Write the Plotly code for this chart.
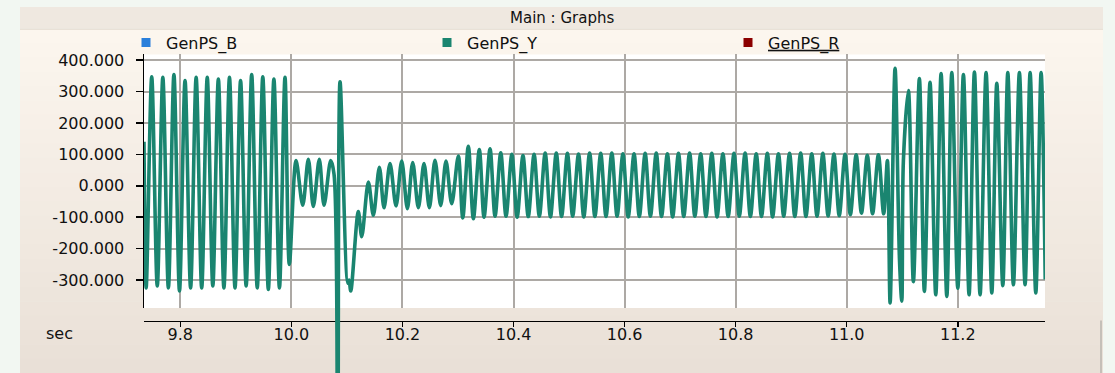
import plotly.graph_objects as go

# ---------------- data (time in s, GenPS_Y value) ----------------
# steady pre-disturbance oscillation (start point, then trough/peak alternation)
pre_times = [9.7346, 9.7385, 9.7485, 9.7585, 9.7685, 9.7785, 9.7885, 9.7985, 9.8085, 9.8185,
             9.8285, 9.8385, 9.8485, 9.8585, 9.8685, 9.8785, 9.8885, 9.8985, 9.9085, 9.9185,
             9.9285, 9.9385, 9.9485, 9.9585, 9.9685, 9.9785, 9.9885]
pre_values = [140, -325, 347, -319, 345, -325, 354, -335, 335, -325, 345, -325, 345, -319,
              340, -325, 345, -325, 335, -319, 354, -325, 347, -330, 340, -325, 345]

# first disturbance at 10.0 s and the spike near 10.08 s
dist1_times = [9.9963, 10.0084, 10.0204, 10.0305, 10.0395, 10.0503, 10.0588, 10.0708,
               10.0768, 10.0833, 10.0876, 10.1015, 10.1038, 10.1069, 10.1205, 10.1267,
               10.1386, 10.1476, 10.1584, 10.1668]
dist1_values = [-250, 80, -62, 84, -66, 84, -62, 80,
                37, -1000, 331, -310, -300, -335, -82, -162,
                12, -94, 59, -70]

# reduced oscillation, step up around 10.3 s
mid_times = [10.1776, 10.1884, 10.1987, 10.2088, 10.2185, 10.2286, 10.2388, 10.2484,
             10.2586, 10.2689, 10.2784, 10.2887, 10.3006, 10.3086, 10.3186, 10.3277,
             10.3384, 10.3469, 10.3577, 10.3667, 10.3770, 10.3865]
mid_values = [71, -64, 79, -73, 74, -70, 71, -70,
              81, -63, 79, -57, 95, -102, 126, -105,
              115, -100, 118, -97, 105, -97]

# steady reduced oscillation until ~11.07 s (peak/trough alternation)
steady_times = [10.3970, 10.4065, 10.4170, 10.4265, 10.4370, 10.4465, 10.4570, 10.4665,
                10.4770, 10.4865, 10.4970, 10.5065, 10.5170, 10.5265, 10.5370, 10.5465,
                10.5570, 10.5665, 10.5770, 10.5865, 10.5970, 10.6065, 10.6170, 10.6265,
                10.6370, 10.6465, 10.6570, 10.6665, 10.6770, 10.6865, 10.6970, 10.7065,
                10.7170, 10.7265, 10.7370, 10.7465, 10.7570, 10.7665, 10.7770, 10.7865,
                10.7970, 10.8065, 10.8170, 10.8265, 10.8370, 10.8465, 10.8570, 10.8665,
                10.8770, 10.8865, 10.8970, 10.9065, 10.9170, 10.9265, 10.9370, 10.9465,
                10.9570, 10.9665, 10.9770, 10.9865, 10.9970, 11.0065, 11.0170, 11.0265,
                11.0370, 11.0465, 11.0570, 11.0665]
steady_values = [100, -100, 96, -98, 100, -97, 104, -99, 104, -98, 103, -97, 101, -99,
                 104, -98, 103, -98, 104, -97, 102, -99, 102, -98, 103, -97, 104, -98,
                 102, -99, 103, -98, 104, -97, 102, -98, 103, -99, 102, -98, 103, -97,
                 104, -98, 102, -98, 103, -99, 102, -97, 103, -98, 104, -98, 102, -97,
                 103, -96, 101, -95, 100, -92, 99, -87, 97, -89, 99, -89]

# second disturbance near 11.08 s and full-amplitude oscillation to the end
post_times = [11.0732, 11.0781, 11.0870, 11.0950, 11.0991, 11.1020, 11.1110, 11.1200,
              11.1308, 11.1398, 11.1500, 11.1603, 11.1699, 11.1802, 11.1892, 11.2000,
              11.2101, 11.2203, 11.2299, 11.2401, 11.2509, 11.2612, 11.2702, 11.2810,
              11.2900, 11.3001, 11.3109, 11.3211, 11.3302, 11.3404, 11.3500, 11.3574]
post_values = [80, -373, 374, -236, -367, 80, 303, -305,
               341, -336, 329, -347, 357, -352, 360, -326,
               354, -347, 362, -347, 360, -341, 326, -318,
               360, -315, 360, -315, 360, -341, 360, -298]

time_s = pre_times + dist1_times + mid_times + steady_times + post_times
genps_y = pre_values + dist1_values + mid_values + steady_values + post_values

series_names = ["GenPS_B", "GenPS_Y", "GenPS_R"]
series_colors = ["#2A7FDB", "#1A8570", "#8B0000"]

x_tick_vals = [9.8, 10.0, 10.2, 10.4, 10.6, 10.8, 11.0, 11.2]
x_tick_text = ["9.8", "10.0", "10.2", "10.4", "10.6", "10.8", "11.0", "11.2"]
y_tick_vals = [400, 300, 200, 100, 0, -100, -200, -300]
y_tick_text = ["400.000", "300.000", "200.000", "100.000", "0.000",
               "-100.000", "-200.000", "-300.000"]

# ---------------- figure ----------------
W, H = 1115, 373
FONT = "DejaVu Sans"


def px_x(p):
    return p / W


def px_y(p):
    return (H - p) / H


fig = go.Figure()

# legend entries (square swatches)
legend_labels = [series_names[0], series_names[1],
                 '<span style="text-decoration:underline">' + series_names[2] + '</span>']
for lab, col in zip(legend_labels, series_colors):
    fig.add_trace(go.Scatter(x=[None], y=[None], mode="markers", name=lab,
                             marker=dict(symbol="square", size=9, color=col),
                             xaxis="x", yaxis="y"))

line_style = dict(color=series_colors[1], width=3.6, shape="spline", smoothing=0.9)
# main plot area
fig.add_trace(go.Scatter(x=time_s, y=genps_y, mode="lines", line=line_style,
                         showlegend=False, xaxis="x", yaxis="y", hoverinfo="skip"))
# continuation of the trace below the plot area (the spike runs off the panel)
fig.add_trace(go.Scatter(x=time_s, y=genps_y, mode="lines", line=line_style,
                         showlegend=False, xaxis="x2", yaxis="y2", hoverinfo="skip"))

plot_left, plot_right, plot_top, plot_bottom = 144, 1045, 51, 307.3
x_dom = [px_x(plot_left), px_x(plot_right)]
y_dom = [px_y(plot_bottom), px_y(plot_top)]

shapes = []
# panel background (vertical gradient built from bands)
top_rgb = (252, 246, 238)
bot_rgb = (233, 224, 215)
y_start, y_end = 25, H
n = 24
for i in range(n):
    a = y_start + (y_end - y_start) * i / n
    b = y_start + (y_end - y_start) * (i + 1) / n
    f = (i + 0.5) / n
    c = tuple(int(round(top_rgb[k] + (bot_rgb[k] - top_rgb[k]) * f)) for k in range(3))
    shapes.append(dict(type="rect", xref="paper", yref="paper",
                       x0=px_x(20), x1=px_x(1103), y0=px_y(b + 0.5), y1=px_y(a),
                       fillcolor="rgb(%d,%d,%d)" % c, line=dict(width=0), layer="below"))
# title bar
shapes.append(dict(type="rect", xref="paper", yref="paper",
                   x0=px_x(20), x1=px_x(1103), y0=px_y(25), y1=px_y(3),
                   fillcolor="#EFE8E0", line=dict(width=0), layer="below"))
shapes.append(dict(type="line", xref="paper", yref="paper",
                   x0=px_x(20), x1=px_x(1103), y0=px_y(25.5), y1=px_y(25.5),
                   line=dict(color="#E2D9CF", width=1), layer="below"))
# white plotting area
shapes.append(dict(type="rect", xref="x domain", yref="y domain", x0=0, x1=1, y0=0, y1=1,
                   fillcolor="white", line=dict(width=0), layer="below"))
# small scroll edge at lower right
shapes.append(dict(type="line", xref="paper", yref="paper",
                   x0=px_x(1101), x1=px_x(1101), y0=0, y1=px_y(320),
                   line=dict(color="#B9B4AE", width=1.5), layer="above"))

fig.update_layout(
    width=W, height=H, autosize=False,
    margin=dict(l=0, r=0, t=0, b=0, pad=0),
    paper_bgcolor="#F2F7F2",
    plot_bgcolor="rgba(0,0,0,0)",
    font=dict(family=FONT, size=16, color="#111111"),
    shapes=shapes,
    showlegend=True,
    legend=dict(orientation="h", x=px_x(126), xanchor="left", y=px_y(39), yanchor="middle",
                bgcolor="rgba(0,0,0,0)", borderwidth=0, entrywidth=256,
                entrywidthmode="pixels", font=dict(family=FONT, size=16, color="#111111"),
                itemclick=False, itemdoubleclick=False),
    xaxis=dict(domain=x_dom, range=[9.7346, 11.357], anchor="free", position=px_y(320),
               showline=True, linecolor="black", linewidth=1.5,
               ticks="outside", ticklen=5, tickcolor="black", tickwidth=1.5,
               tickvals=x_tick_vals, ticktext=x_tick_text, ticklabelstandoff=-6,
               showgrid=True, gridcolor="#ADA9A5", gridwidth=2,
               zeroline=False, tickfont=dict(family=FONT, size=16, color="#111111"),
               fixedrange=True),
    yaxis=dict(domain=y_dom, range=[-389, 418], anchor="x",
               showline=True, linecolor="black", linewidth=1.5,
               ticks="outside", ticklen=7, tickcolor="black", tickwidth=1.5,
               tickvals=y_tick_vals, ticktext=y_tick_text, ticklabelstandoff=8,
               showgrid=True, gridcolor="#ADA9A5", gridwidth=2,
               zeroline=False, tickfont=dict(family=FONT, size=16, color="#111111"),
               fixedrange=True),
    xaxis2=dict(domain=x_dom, matches="x", anchor="y2", visible=False, showgrid=False,
                fixedrange=True),
    yaxis2=dict(domain=[0, y_dom[0]], range=[-596, -389], anchor="x2", visible=False,
                showgrid=False, zeroline=False, fixedrange=True),
    annotations=[
        dict(text="Main : Graphs", xref="paper", yref="paper", x=px_x(561.5), y=px_y(14),
             xanchor="center", yanchor="middle", showarrow=False,
             font=dict(family=FONT, size=15, color="#111111")),
        dict(text="sec", xref="paper", yref="paper", x=px_x(59), y=px_y(333),
             xanchor="center", yanchor="middle", showarrow=False,
             font=dict(family=FONT, size=16, color="#111111")),
    ],
)

fig.write_html("out.html", config={"displayModeBar": False, "staticPlot": True},
               post_script="document.body.style.margin='0';document.body.style.overflow='hidden';")
